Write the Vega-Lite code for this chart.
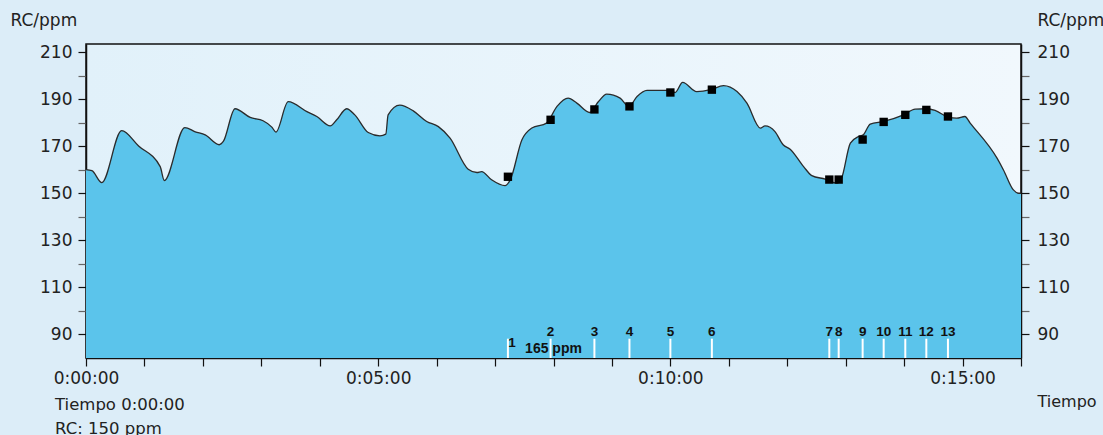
{
  "$schema": "https://vega.github.io/schema/vega-lite/v6.json",
  "width": 935,
  "height": 314,
  "autosize": {"type": "none"},
  "padding": {"left": 86, "top": 44, "right": 82, "bottom": 77},
  "background": "#dcedf8",
  "datasets": {
    "curve": [
      {"t": 0, "rc": 160}, {"t": 0.1, "rc": 159.6}, {"t": 0.27, "rc": 154.5}, {"t": 0.61, "rc": 176.6},
      {"t": 0.9, "rc": 170.1}, {"t": 1.27, "rc": 161.3}, {"t": 1.34, "rc": 155.4}, {"t": 1.69, "rc": 177.9},
      {"t": 1.87, "rc": 176.1}, {"t": 2.04, "rc": 174.8}, {"t": 2.28, "rc": 170.6}, {"t": 2.35, "rc": 172},
      {"t": 2.55, "rc": 185.9}, {"t": 2.81, "rc": 182.2}, {"t": 3.03, "rc": 180.8}, {"t": 3.18, "rc": 178.1},
      {"t": 3.25, "rc": 176}, {"t": 3.46, "rc": 188.9}, {"t": 3.78, "rc": 184.7}, {"t": 3.95, "rc": 182.6},
      {"t": 4.18, "rc": 178.6}, {"t": 4.29, "rc": 181.2}, {"t": 4.46, "rc": 185.9}, {"t": 4.6, "rc": 183.3},
      {"t": 4.83, "rc": 175.8}, {"t": 5.03, "rc": 174.4}, {"t": 5.13, "rc": 175.1}, {"t": 5.17, "rc": 183.3},
      {"t": 5.37, "rc": 187.4}, {"t": 5.6, "rc": 185}, {"t": 5.83, "rc": 180.5}, {"t": 6.03, "rc": 178.3},
      {"t": 6.23, "rc": 173.4}, {"t": 6.54, "rc": 160.2}, {"t": 6.69, "rc": 158.8}, {"t": 6.77, "rc": 159.2},
      {"t": 6.94, "rc": 155.7}, {"t": 7.17, "rc": 153.2}, {"t": 7.26, "rc": 155.7}, {"t": 7.46, "rc": 172.7},
      {"t": 7.63, "rc": 177.7}, {"t": 7.88, "rc": 179.8}, {"t": 8.06, "rc": 186.9}, {"t": 8.25, "rc": 190.4},
      {"t": 8.4, "rc": 188.3}, {"t": 8.62, "rc": 184.3}, {"t": 8.77, "rc": 189}, {"t": 8.91, "rc": 192.1},
      {"t": 9.14, "rc": 190.4}, {"t": 9.29, "rc": 186.9}, {"t": 9.43, "rc": 191.1}, {"t": 9.6, "rc": 193.7},
      {"t": 9.94, "rc": 193.7}, {"t": 10.08, "rc": 192.8}, {"t": 10.21, "rc": 197.1}, {"t": 10.45, "rc": 193.2},
      {"t": 10.69, "rc": 194}, {"t": 10.91, "rc": 195.7}, {"t": 11.14, "rc": 193.2}, {"t": 11.31, "rc": 188.3},
      {"t": 11.54, "rc": 177.7}, {"t": 11.62, "rc": 178.6}, {"t": 11.79, "rc": 176.2}, {"t": 11.93, "rc": 170.6},
      {"t": 12.05, "rc": 168.7}, {"t": 12.28, "rc": 161.3}, {"t": 12.42, "rc": 157.5}, {"t": 12.65, "rc": 156},
      {"t": 12.85, "rc": 154.3}, {"t": 12.93, "rc": 156.4}, {"t": 13.08, "rc": 171.3}, {"t": 13.22, "rc": 174.1},
      {"t": 13.3, "rc": 174.8}, {"t": 13.42, "rc": 179.4}, {"t": 13.65, "rc": 180.5}, {"t": 13.99, "rc": 183.3},
      {"t": 14.19, "rc": 185.7}, {"t": 14.39, "rc": 185.9}, {"t": 14.53, "rc": 185.2}, {"t": 14.76, "rc": 182.3},
      {"t": 14.9, "rc": 181.9}, {"t": 15.04, "rc": 182.6}, {"t": 15.13, "rc": 179.8}, {"t": 15.59, "rc": 164.9},
      {"t": 15.7, "rc": 159.9}, {"t": 15.87, "rc": 151.4}, {"t": 15.96, "rc": 150}, {"t": 16, "rc": 150}
    ],
    "markers": [
      {"n": 1, "t": 7.22, "rc": 157.0},
      {"n": 2, "t": 7.95, "rc": 181.2},
      {"n": 3, "t": 8.7, "rc": 185.6},
      {"n": 4, "t": 9.3, "rc": 186.9},
      {"n": 5, "t": 10.0, "rc": 192.8},
      {"n": 6, "t": 10.71, "rc": 194.0},
      {"n": 7, "t": 12.72, "rc": 155.8},
      {"n": 8, "t": 12.88, "rc": 155.8},
      {"n": 9, "t": 13.29, "rc": 172.8},
      {"n": 10, "t": 13.65, "rc": 180.3},
      {"n": 11, "t": 14.02, "rc": 183.3},
      {"n": 12, "t": 14.38, "rc": 185.4},
      {"n": 13, "t": 14.75, "rc": 182.6}
    ]
  },
  "title": {
    "text": ["Tiempo 0:00:00", "RC: 150 ppm"],
    "orient": "bottom",
    "anchor": "start",
    "frame": "group",
    "dx": -31,
    "offset": -12,
    "fontSize": 16.5,
    "fontWeight": "normal",
    "font": "DejaVu Sans",
    "color": "#222",
    "lineHeight": 24,
    "baseline": "top"
  },
  "config": {
    "view": {
      "fill": {"gradient": "linear", "x1": 0, "y1": 0, "x2": 1, "y2": 0,
        "stops": [{"offset": 0, "color": "#e1f1fa"}, {"offset": 1, "color": "#f1f8fd"}]},
      "stroke": "#111",
      "strokeWidth": 1.5
    },
    "axis": {
      "labelFont": "DejaVu Sans",
      "labelFontSize": 17,
      "labelColor": "#222",
      "titleFont": "DejaVu Sans",
      "titleFontSize": 16,
      "titleFontWeight": "normal",
      "titleColor": "#222",
      "tickSize": 8,
      "tickWidth": 1.2,
      "tickColor": "#111",
      "domainColor": "#111",
      "domainWidth": 1.5,
      "grid": false,
      "zindex": 1
    }
  },
  "layer": [
    {
      "data": {"name": "curve"},
      "mark": {"type": "area", "interpolate": "monotone", "color": "#5bc4eb", "opacity": 1, "clip": true,
        "line": {"color": "#2b2b2b", "strokeWidth": 1.3}},
      "encoding": {
        "x": {"field": "t", "type": "quantitative", "title": "Tiempo",
          "scale": {"domain": [0, 16], "nice": false, "zero": false},
          "axis": {
            "values": [0,1,2,3,4,5,6,7,8,9,10,11,12,13,14,15,16],
            "labelExpr": "datum.value % 5 == 0 ? '0:' + (datum.value < 10 ? '0' : '') + datum.value + ':00' : ''",
            "labelOverlap": false,
            "labelFlush": false,
            "labelPadding": 4,
            "titleX": 951,
            "titleY": 48,
            "titleAlign": "left",
            "titleBaseline": "alphabetic",
            "titleFontSize": 16
          }},
        "y": {"field": "rc", "type": "quantitative",
          "scale": {"domain": [80, 213.4], "nice": false, "zero": false},
          "axis": {
            "orient": "left",
            "values": [90,100,110,120,130,140,150,160,170,180,190,200,210],
            "labelExpr": "datum.value % 20 == 10 ? datum.label : ''",
            "tickColor": {"condition": {"test": "datum.value % 20 == 10", "value": "#111"}, "value": "#666"},
            "labelPadding": 6,
            "title": "RC/ppm",
            "titleFontSize": 17,
            "titleAngle": 0,
            "titleAlign": "left",
            "titleBaseline": "alphabetic",
            "titleX": -76,
            "titleY": -19
          }},
        "y2": {"datum": 80}
      }
    },
    {
      "data": {"name": "markers"},
      "mark": {"type": "rule", "color": "#ffffff", "strokeWidth": 2},
      "encoding": {
        "x": {"field": "t", "type": "quantitative", "title": "Tiempo"},
        "y": {"datum": 80, "axis": null},
        "y2": {"datum": 88.2}
      }
    },
    {
      "data": {"name": "markers"},
      "mark": {"type": "square", "size": 70, "filled": true, "color": "#000000", "opacity": 1},
      "encoding": {
        "x": {"field": "t", "type": "quantitative", "title": "Tiempo"},
        "y": {"field": "rc", "type": "quantitative",
          "axis": {
            "orient": "right",
            "values": [90,100,110,120,130,140,150,160,170,180,190,200,210],
            "labelExpr": "datum.value % 20 == 10 ? datum.label : ''",
            "tickColor": {"condition": {"test": "datum.value % 20 == 10", "value": "#111"}, "value": "#666"},
            "labelPadding": 8,
            "title": "RC/ppm",
            "titleFontSize": 17,
            "titleAngle": 0,
            "titleAlign": "left",
            "titleBaseline": "alphabetic",
            "titleX": 16,
            "titleY": -19
          }}
      }
    },
    {
      "data": {"name": "markers"},
      "transform": [{"filter": "datum.n > 1"}],
      "mark": {"type": "text", "font": "Liberation Sans", "fontWeight": "bold", "fontSize": 13.5, "color": "#111", "baseline": "alphabetic", "align": "center"},
      "encoding": {
        "x": {"field": "t", "type": "quantitative", "title": "Tiempo"},
        "y": {"datum": 89.5, "axis": null},
        "text": {"field": "n", "type": "nominal"}
      }
    },
    {
      "data": {"name": "markers"},
      "transform": [{"filter": "datum.n == 1"}],
      "mark": {"type": "text", "font": "Liberation Sans", "fontWeight": "bold", "fontSize": 13.5, "color": "#111", "baseline": "alphabetic", "align": "center", "dx": 4},
      "encoding": {
        "x": {"field": "t", "type": "quantitative", "title": "Tiempo"},
        "y": {"datum": 84.5, "axis": null},
        "text": {"field": "n", "type": "nominal"}
      }
    },
    {
      "data": {"values": [{"label": "165 ppm"}]},
      "mark": {"type": "text", "font": "Liberation Sans", "fontWeight": "bold", "fontSize": 14, "color": "#111", "baseline": "alphabetic", "align": "center"},
      "encoding": {
        "x": {"datum": 8.0},
        "y": {"datum": 82.1, "axis": null},
        "text": {"field": "label", "type": "nominal"}
      }
    }
  ],
  "resolve": {"scale": {"y": "shared"}, "axis": {"y": "independent"}}
}
